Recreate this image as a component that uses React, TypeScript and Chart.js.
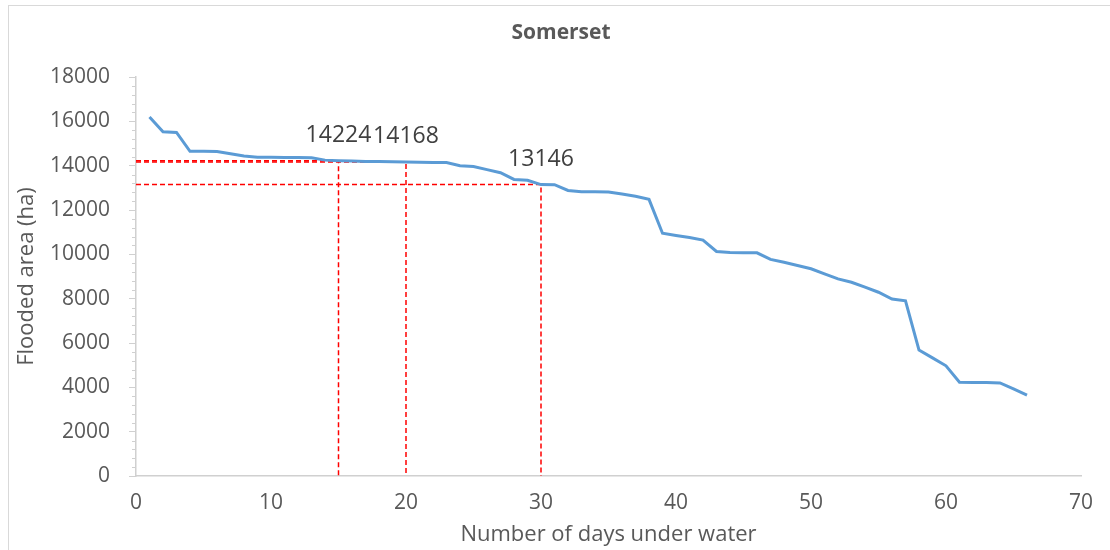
import React, { useEffect, useRef } from "react";
import { Chart, registerables } from "chart.js";

Chart.register(...registerables);

const chartTitle = "Somerset";
const xAxisTitle = "Number of days under water";
const yAxisTitle = "Flooded area (ha)";

const days = [
  1, 2, 3, 4, 5, 6, 7, 8, 9, 10, 11, 12, 13, 14, 15, 16, 17, 18, 19, 20, 21, 22,
  23, 24, 25, 26, 27, 28, 29, 30, 31, 32, 33, 34, 35, 36, 37, 38, 39, 40, 41, 42,
  43, 44, 45, 46, 47, 48, 49, 50, 51, 52, 53, 54, 55, 56, 57, 58, 59, 60, 61, 62,
  63, 64, 65, 66,
];
const floodedArea = [
  16200, 15530, 15500, 14650, 14650, 14640, 14540, 14440, 14380, 14380, 14370,
  14370, 14360, 14250, 14224, 14210, 14190, 14185, 14180, 14168, 14150, 14140,
  14140, 14000, 13960, 13820, 13680, 13380, 13340, 13146, 13140, 12880, 12820,
  12820, 12810, 12720, 12620, 12480, 10950, 10850, 10760, 10640, 10130, 10080,
  10070, 10070, 9770, 9640, 9500, 9350, 9120, 8890, 8740, 8520, 8290, 7980,
  7900, 5680, 5330, 4970, 4230, 4220, 4220, 4200, 3930, 3650,
];

const refDays = [15, 20, 30];
const refValues = [14224, 14168, 13146];

const xMin = 0;
const xMax = 70;
const xStep = 10;
const yMin = 0;
const yMax = 18000;
const yStep = 2000;
const yMinorStep = 400;

const textColor = "#595959";
const axisColor = "#d0d0d0";
const fontFamily = "'Open Sans', 'DejaVu Sans', sans-serif";

const titlePlugin = {
  id: "customTitle",
  afterDraw(chart: any) {
    const ctx = chart.ctx;
    ctx.save();
    ctx.font = `bold 21px ${fontFamily}`;
    ctx.fillStyle = textColor;
    ctx.textAlign = "center";
    ctx.textBaseline = "middle";
    ctx.fillText(chartTitle, 561, 33);
    ctx.restore();
  },
};

const minorTicksPlugin = {
  id: "minorTicks",
  afterDraw(chart: any) {
    const y = chart.scales.y;
    const ctx = chart.ctx;
    const axisX = chart.chartArea.left;
    ctx.save();
    ctx.strokeStyle = axisColor;
    ctx.lineWidth = 1;
    for (let v = yMin; v <= yMax; v += yMinorStep) {
      if (v % yStep === 0) continue;
      const py = Math.round(y.getPixelForValue(v)) + 0.5;
      ctx.beginPath();
      ctx.moveTo(axisX - 4, py);
      ctx.lineTo(axisX, py);
      ctx.stroke();
    }
    ctx.restore();
  },
};

const refLabelsPlugin = {
  id: "refLabels",
  afterDatasetsDraw(chart: any) {
    const xs = chart.scales.x;
    const ys = chart.scales.y;
    const ctx = chart.ctx;
    ctx.save();
    ctx.font = `23px ${fontFamily}`;
    ctx.fillStyle = "#404040";
    ctx.textAlign = "center";
    ctx.textBaseline = "middle";
    refDays.forEach((d, i) => {
      const px = xs.getPixelForValue(d);
      const py = ys.getPixelForValue(refValues[i]) - 25;
      ctx.fillText(String(refValues[i]), px, py);
    });
    ctx.restore();
  },
};

export default function App() {
  const canvasRef = useRef<HTMLCanvasElement | null>(null);

  useEffect(() => {
    if (!canvasRef.current) return;
    const mainData = days.map((d, i) => ({ x: d, y: floodedArea[i] }));
    const refDatasets = refDays.map((d, i) => ({
      label: `ref-${d}`,
      data: [
        { x: xMin, y: refValues[i] },
        { x: d, y: refValues[i] },
        { x: d, y: yMin },
      ],
      borderColor: "#FF0000",
      borderWidth: 1.5,
      borderDash: [5, 3],
      pointRadius: 0,
      fill: false,
      tension: 0,
      order: 1,
    }));

    const chart = new Chart(canvasRef.current, {
      type: "line",
      data: {
        datasets: [
          {
            label: "Flooded area",
            data: mainData,
            borderColor: "#5B9BD5",
            borderWidth: 3,
            pointRadius: 0,
            fill: false,
            tension: 0,
            order: 0,
          },
          ...refDatasets,
        ],
      },
      options: {
        animation: false,
        responsive: false,
        maintainAspectRatio: false,
        layout: { padding: { top: 77, left: 0, right: 29, bottom: 0 } },
        plugins: {
          legend: { display: false },
          title: { display: false },
          tooltip: { enabled: false },
        },
        scales: {
          x: {
            type: "linear",
            min: xMin,
            max: xMax,
            afterFit(scale: any) {
              scale.height = 74;
            },
            ticks: {
              stepSize: xStep,
              color: textColor,
              font: { family: fontFamily, size: 21 },
              padding: 14,
              maxRotation: 0,
              callback: (v: any) => String(v),
            },
            grid: { display: true, drawOnChartArea: false, drawTicks: false, color: axisColor },
            border: { display: true, color: axisColor, width: 1.5 },
            title: {
              display: true,
              text: xAxisTitle,
              color: textColor,
              font: { family: fontFamily, size: 22 },
              padding: { top: 0, bottom: 2 },
            },
          },
          y: {
            type: "linear",
            min: yMin,
            max: yMax,
            afterFit(scale: any) {
              scale.width = 136;
            },
            ticks: {
              stepSize: yStep,
              color: textColor,
              font: { family: fontFamily, size: 21 },
              padding: 19,
              callback: (v: any) => String(v),
            },
            grid: {
              display: true,
              drawOnChartArea: false,
              drawTicks: true,
              tickLength: 7,
              color: axisColor,
            },
            border: { display: true, color: axisColor, width: 1.5 },
            title: {
              display: true,
              text: yAxisTitle,
              color: textColor,
              font: { family: fontFamily, size: 22 },
              padding: { top: 14, bottom: 0 },
            },
          },
        },
      },
      plugins: [titlePlugin, minorTicksPlugin, refLabelsPlugin],
    } as any);

    return () => chart.destroy();
  }, []);

  return (
    <div
      style={{
        position: "absolute",
        left: 0,
        top: 0,
        width: 1110,
        height: 550,
        overflow: "hidden",
        background: "#ffffff",
      }}
    >
      <div
        style={{
          position: "absolute",
          left: 8,
          top: 5,
          width: 1200,
          height: 700,
          border: "1.5px solid #d9d9d9",
          boxSizing: "border-box",
        }}
      />
      <canvas
        ref={canvasRef}
        width={1110}
        height={550}
        style={{ position: "absolute", left: 0, top: 0, width: 1110, height: 550 }}
      />
    </div>
  );
}
